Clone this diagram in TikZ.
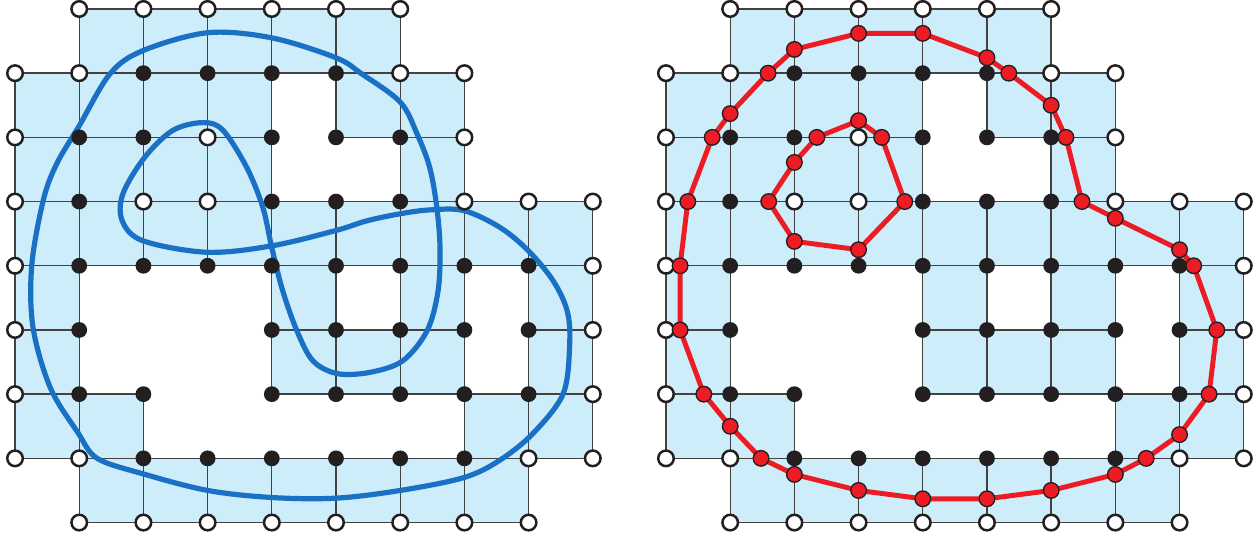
\documentclass[tikz,border=0pt]{standalone}
\usepackage{tikz}

\definecolor{cellblue}{RGB}{204,237,249}
\definecolor{curveblue}{RGB}{26,112,196}
\definecolor{polyred}{RGB}{237,28,36}
\definecolor{dotblack}{RGB}{35,31,32}

\begin{document}
\begin{tikzpicture}[
    cell/.style={fill=cellblue, draw=dotblack!85, line width=0.6pt},
    wdot/.style={circle, inner sep=0pt, minimum size=6.9pt, fill=white, draw=dotblack, line width=1.1pt},
    bdot/.style={circle, inner sep=0pt, minimum size=7pt, fill=dotblack},
    rdot/.style={circle, inner sep=0pt, minimum size=6.9pt, fill=polyred, draw=dotblack, line width=0.6pt},
    curve/.style={draw=curveblue, line width=2.3pt},
    poly/.style={draw=polyred, line width=2.2pt, line join=round}]

    \useasboundingbox (-0.234,-0.234) rectangle (19.393,8.140);

    % cells met by the curve, same in both panels
    \foreach \dx in {0,10.14} {
        \foreach \i/\j in {1/7,2/7,3/7,4/7,5/7,
                           0/6,1/6,2/6,3/6,5/6,6/6,
                           0/5,1/5,2/5,3/5,6/5,
                           0/4,1/4,2/4,3/4,4/4,5/4,6/4,7/4,8/4,
                           0/3,4/3,6/3,8/3,
                           0/2,4/2,5/2,6/2,8/2,
                           0/1,1/1,7/1,8/1,
                           1/0,2/0,3/0,4/0,5/0,6/0,7/0}
            \draw[cell] (\i+\dx,\j) rectangle ++(1,1);
    }

    % left: the closed curve
    \draw[curve] plot[smooth cycle, tension=0.55] coordinates {
        (3.00,7.63) (4.00,7.55) (5.00,7.24) (5.40,6.99) (6.00,6.55) (6.26,6.06)
        (6.46,5.53) (6.57,4.91) (6.62,4.28) (6.59,3.61) (6.42,2.99) (6.04,2.52)
        (5.53,2.34) (5.02,2.32) (4.64,2.52) (4.39,2.99) (4.17,3.61) (4.00,4.28)
        (3.86,4.91) (3.61,5.53) (3.24,6.11) (2.93,6.23) (2.46,6.11) (2.02,5.69)
        (1.68,5.12) (1.67,4.70) (1.99,4.39) (2.99,4.21) (4.00,4.31) (5.00,4.55)
        (5.48,4.70) (6.00,4.81) (6.46,4.87) (6.99,4.86) (7.55,4.60) (7.99,4.24)
        (8.38,3.77) (8.60,3.30) (8.64,2.79) (8.54,2.01) (8.07,1.39) (7.55,0.97)
        (6.99,0.70) (6.00,0.50) (5.00,0.38) (4.00,0.39) (3.00,0.50) (1.99,0.76)
        (1.28,1.00) (0.98,1.40) (0.55,2.10) (0.28,3.04) (0.26,4.00) (0.44,5.02)
        (0.65,5.59) (1.00,6.18) (1.48,6.99) (1.99,7.35)};

    % grid points, outside (white) and inside (black)
    \foreach \p/\dx in {L/0,R/10.14} {
        \foreach \i/\j in {1/8,2/8,3/8,4/8,5/8,6/8,
                           0/7,1/7,6/7,7/7,
                           0/6,3/6,7/6,
                           0/5,2/5,3/5,7/5,8/5,9/5,
                           0/4,9/4,0/3,9/3,0/2,9/2,
                           0/1,1/1,8/1,9/1,
                           1/0,2/0,3/0,4/0,5/0,6/0,7/0,8/0}
            \node[wdot] (\p-\i-\j) at (\i+\dx,\j) {};
        \foreach \i/\j in {2/7,3/7,4/7,5/7,
                           1/6,2/6,4/6,5/6,6/6,
                           1/5,4/5,5/5,6/5,
                           1/4,2/4,3/4,4/4,5/4,6/4,7/4,8/4,
                           1/3,4/3,5/3,6/3,7/3,8/3,
                           1/2,2/2,4/2,5/2,6/2,7/2,8/2,
                           2/1,3/1,4/1,5/1,6/1,7/1}
            \node[bdot] (\p-\i-\j) at (\i+\dx,\j) {};
    }

    % right: polygons through the crossings
    \foreach \n/\x/\y in {1/3/7.62, 2/4/7.62, 3/5/7.24, 4/5.34/7, 5/6/6.50,
                          6/6.23/6, 7/6.48/5, 8/7/4.74, 9/8/4.25, 10/8.22/4,
                          11/8.58/3, 12/8.46/2, 13/8/1.37, 14/7.48/1, 15/7/0.75,
                          16/6/0.50, 17/5/0.37, 18/4/0.37, 19/3/0.50, 20/2/0.75,
                          21/1.48/1, 22/1/1.50, 23/0.59/2, 24/0.22/3, 25/0.22/4,
                          26/0.34/5, 27/0.72/6, 28/1/6.37, 29/1.59/7, 30/2/7.37}
        \coordinate (out\n) at (\x+10.14,\y);
    \foreach \n/\x/\y in {1/3/6.26, 2/3.36/6, 3/3.72/5, 4/3/4.25,
                          5/2/4.38, 6/1.60/5, 7/2/5.61, 8/2.35/6}
        \coordinate (in\n) at (\x+10.14,\y);

    \draw[poly] (out1) \foreach \n in {2,...,30} {-- (out\n)} -- cycle;
    \draw[poly] (in1) \foreach \n in {2,...,8} {-- (in\n)} -- cycle;

    \foreach \n in {1,...,30} \node[rdot] (outdot\n) at (out\n) {};
    \foreach \n in {1,...,8} \node[rdot] (indot\n) at (in\n) {};
\end{tikzpicture}
\end{document}
